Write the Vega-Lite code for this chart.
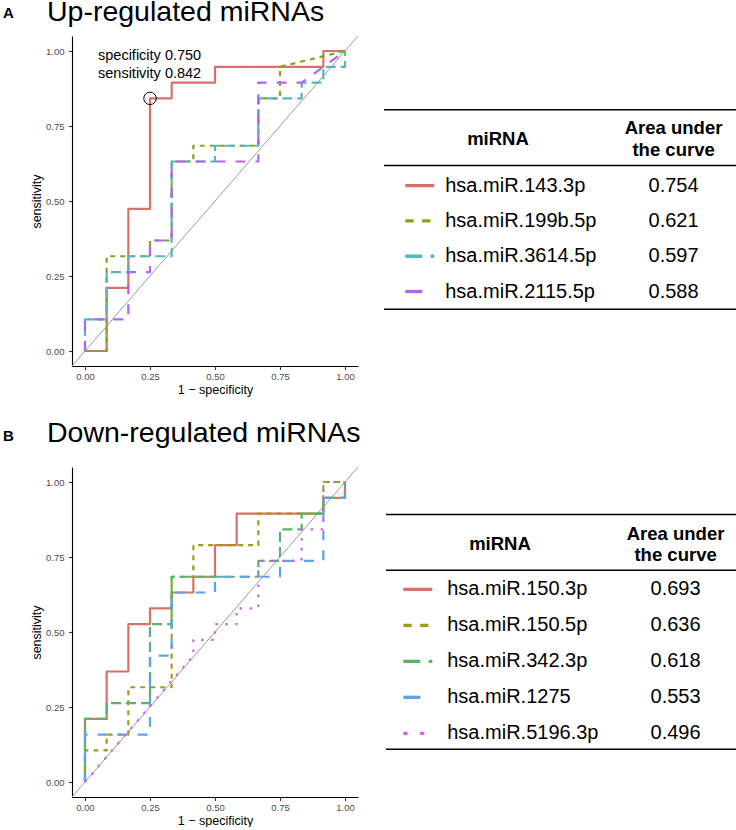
{
  "$schema": "https://vega.github.io/schema/vega-lite/v6.json",
  "padding": {"left": 3, "top": -3, "right": 0, "bottom": 0},
  "config": {
    "font": "Liberation Sans",
    "view": {"stroke": null},
    "axis": {"grid": false, "domainColor": "#000000", "domainWidth": 1.1, "tickColor": "#333333", "tickWidth": 1.1, "tickSize": 3.5, "labelColor": "#4D4D4D", "labelFontSize": 9.5, "labelPadding": 2, "titleFontSize": 12.5, "titleFontWeight": "normal", "titleColor": "#000000", "titlePadding": 3}
  },
  "datasets": {
    "rocA": [
      {"miRNA": "hsa.miR.143.3p", "step": 0, "fpr": 0, "sens": 0},
      {"miRNA": "hsa.miR.143.3p", "step": 1, "fpr": 0.0833, "sens": 0},
      {"miRNA": "hsa.miR.143.3p", "step": 2, "fpr": 0.0833, "sens": 0.2105},
      {"miRNA": "hsa.miR.143.3p", "step": 3, "fpr": 0.1667, "sens": 0.2105},
      {"miRNA": "hsa.miR.143.3p", "step": 4, "fpr": 0.1667, "sens": 0.4737},
      {"miRNA": "hsa.miR.143.3p", "step": 5, "fpr": 0.25, "sens": 0.4737},
      {"miRNA": "hsa.miR.143.3p", "step": 6, "fpr": 0.25, "sens": 0.8421},
      {"miRNA": "hsa.miR.143.3p", "step": 7, "fpr": 0.3333, "sens": 0.8421},
      {"miRNA": "hsa.miR.143.3p", "step": 8, "fpr": 0.3333, "sens": 0.8947},
      {"miRNA": "hsa.miR.143.3p", "step": 9, "fpr": 0.5, "sens": 0.8947},
      {"miRNA": "hsa.miR.143.3p", "step": 10, "fpr": 0.5, "sens": 0.9474},
      {"miRNA": "hsa.miR.143.3p", "step": 11, "fpr": 0.9167, "sens": 0.9474},
      {"miRNA": "hsa.miR.143.3p", "step": 12, "fpr": 0.9167, "sens": 1},
      {"miRNA": "hsa.miR.143.3p", "step": 13, "fpr": 1, "sens": 1},
      {"miRNA": "hsa.miR.199b.5p", "step": 0, "fpr": 0, "sens": 0},
      {"miRNA": "hsa.miR.199b.5p", "step": 1, "fpr": 0.0833, "sens": 0},
      {"miRNA": "hsa.miR.199b.5p", "step": 2, "fpr": 0.0833, "sens": 0.3158},
      {"miRNA": "hsa.miR.199b.5p", "step": 3, "fpr": 0.25, "sens": 0.3158},
      {"miRNA": "hsa.miR.199b.5p", "step": 4, "fpr": 0.25, "sens": 0.3684},
      {"miRNA": "hsa.miR.199b.5p", "step": 5, "fpr": 0.3333, "sens": 0.3684},
      {"miRNA": "hsa.miR.199b.5p", "step": 6, "fpr": 0.3333, "sens": 0.6316},
      {"miRNA": "hsa.miR.199b.5p", "step": 7, "fpr": 0.4167, "sens": 0.6316},
      {"miRNA": "hsa.miR.199b.5p", "step": 8, "fpr": 0.4167, "sens": 0.6842},
      {"miRNA": "hsa.miR.199b.5p", "step": 9, "fpr": 0.6667, "sens": 0.6842},
      {"miRNA": "hsa.miR.199b.5p", "step": 10, "fpr": 0.6667, "sens": 0.8421},
      {"miRNA": "hsa.miR.199b.5p", "step": 11, "fpr": 0.75, "sens": 0.8421},
      {"miRNA": "hsa.miR.199b.5p", "step": 12, "fpr": 0.75, "sens": 0.9474},
      {"miRNA": "hsa.miR.199b.5p", "step": 13, "fpr": 1, "sens": 1},
      {"miRNA": "hsa.miR.3614.5p", "step": 0, "fpr": 0, "sens": 0},
      {"miRNA": "hsa.miR.3614.5p", "step": 1, "fpr": 0, "sens": 0.1053},
      {"miRNA": "hsa.miR.3614.5p", "step": 2, "fpr": 0.0833, "sens": 0.1053},
      {"miRNA": "hsa.miR.3614.5p", "step": 3, "fpr": 0.0833, "sens": 0.2632},
      {"miRNA": "hsa.miR.3614.5p", "step": 4, "fpr": 0.1667, "sens": 0.2632},
      {"miRNA": "hsa.miR.3614.5p", "step": 5, "fpr": 0.1667, "sens": 0.3158},
      {"miRNA": "hsa.miR.3614.5p", "step": 6, "fpr": 0.3333, "sens": 0.3158},
      {"miRNA": "hsa.miR.3614.5p", "step": 7, "fpr": 0.3333, "sens": 0.6316},
      {"miRNA": "hsa.miR.3614.5p", "step": 8, "fpr": 0.5, "sens": 0.6316},
      {"miRNA": "hsa.miR.3614.5p", "step": 9, "fpr": 0.5, "sens": 0.6842},
      {"miRNA": "hsa.miR.3614.5p", "step": 10, "fpr": 0.6667, "sens": 0.6842},
      {"miRNA": "hsa.miR.3614.5p", "step": 11, "fpr": 0.6667, "sens": 0.8421},
      {"miRNA": "hsa.miR.3614.5p", "step": 12, "fpr": 0.8333, "sens": 0.8421},
      {"miRNA": "hsa.miR.3614.5p", "step": 13, "fpr": 0.8333, "sens": 0.8947},
      {"miRNA": "hsa.miR.3614.5p", "step": 14, "fpr": 0.9167, "sens": 0.8947},
      {"miRNA": "hsa.miR.3614.5p", "step": 15, "fpr": 0.9167, "sens": 0.9474},
      {"miRNA": "hsa.miR.3614.5p", "step": 16, "fpr": 1, "sens": 0.9474},
      {"miRNA": "hsa.miR.3614.5p", "step": 17, "fpr": 1, "sens": 1},
      {"miRNA": "hsa.miR.2115.5p", "step": 0, "fpr": 0, "sens": 0},
      {"miRNA": "hsa.miR.2115.5p", "step": 1, "fpr": 0, "sens": 0.1053},
      {"miRNA": "hsa.miR.2115.5p", "step": 2, "fpr": 0.1667, "sens": 0.1053},
      {"miRNA": "hsa.miR.2115.5p", "step": 3, "fpr": 0.1667, "sens": 0.2632},
      {"miRNA": "hsa.miR.2115.5p", "step": 4, "fpr": 0.25, "sens": 0.2632},
      {"miRNA": "hsa.miR.2115.5p", "step": 5, "fpr": 0.25, "sens": 0.3684},
      {"miRNA": "hsa.miR.2115.5p", "step": 6, "fpr": 0.3333, "sens": 0.3684},
      {"miRNA": "hsa.miR.2115.5p", "step": 7, "fpr": 0.3333, "sens": 0.6316},
      {"miRNA": "hsa.miR.2115.5p", "step": 8, "fpr": 0.6667, "sens": 0.6316},
      {"miRNA": "hsa.miR.2115.5p", "step": 9, "fpr": 0.6667, "sens": 0.8947},
      {"miRNA": "hsa.miR.2115.5p", "step": 10, "fpr": 0.8333, "sens": 0.8947},
      {"miRNA": "hsa.miR.2115.5p", "step": 11, "fpr": 1, "sens": 1}
    ],
    "rocB": [
      {"miRNA": "hsa.miR.150.3p", "step": 0, "fpr": 0, "sens": 0},
      {"miRNA": "hsa.miR.150.3p", "step": 1, "fpr": 0, "sens": 0.2105},
      {"miRNA": "hsa.miR.150.3p", "step": 2, "fpr": 0.0833, "sens": 0.2105},
      {"miRNA": "hsa.miR.150.3p", "step": 3, "fpr": 0.0833, "sens": 0.3684},
      {"miRNA": "hsa.miR.150.3p", "step": 4, "fpr": 0.1667, "sens": 0.3684},
      {"miRNA": "hsa.miR.150.3p", "step": 5, "fpr": 0.1667, "sens": 0.5263},
      {"miRNA": "hsa.miR.150.3p", "step": 6, "fpr": 0.25, "sens": 0.5263},
      {"miRNA": "hsa.miR.150.3p", "step": 7, "fpr": 0.25, "sens": 0.5789},
      {"miRNA": "hsa.miR.150.3p", "step": 8, "fpr": 0.3333, "sens": 0.5789},
      {"miRNA": "hsa.miR.150.3p", "step": 9, "fpr": 0.3333, "sens": 0.6316},
      {"miRNA": "hsa.miR.150.3p", "step": 10, "fpr": 0.4167, "sens": 0.6316},
      {"miRNA": "hsa.miR.150.3p", "step": 11, "fpr": 0.4167, "sens": 0.6842},
      {"miRNA": "hsa.miR.150.3p", "step": 12, "fpr": 0.5, "sens": 0.6842},
      {"miRNA": "hsa.miR.150.3p", "step": 13, "fpr": 0.5, "sens": 0.7895},
      {"miRNA": "hsa.miR.150.3p", "step": 14, "fpr": 0.5833, "sens": 0.7895},
      {"miRNA": "hsa.miR.150.3p", "step": 15, "fpr": 0.5833, "sens": 0.8947},
      {"miRNA": "hsa.miR.150.3p", "step": 16, "fpr": 0.9167, "sens": 0.8947},
      {"miRNA": "hsa.miR.150.3p", "step": 17, "fpr": 0.9167, "sens": 0.9474},
      {"miRNA": "hsa.miR.150.3p", "step": 18, "fpr": 1, "sens": 0.9474},
      {"miRNA": "hsa.miR.150.3p", "step": 19, "fpr": 1, "sens": 1},
      {"miRNA": "hsa.miR.150.5p", "step": 0, "fpr": 0, "sens": 0},
      {"miRNA": "hsa.miR.150.5p", "step": 1, "fpr": 0, "sens": 0.1053},
      {"miRNA": "hsa.miR.150.5p", "step": 2, "fpr": 0.0833, "sens": 0.1053},
      {"miRNA": "hsa.miR.150.5p", "step": 3, "fpr": 0.0833, "sens": 0.1579},
      {"miRNA": "hsa.miR.150.5p", "step": 4, "fpr": 0.1667, "sens": 0.1579},
      {"miRNA": "hsa.miR.150.5p", "step": 5, "fpr": 0.1667, "sens": 0.3158},
      {"miRNA": "hsa.miR.150.5p", "step": 6, "fpr": 0.3333, "sens": 0.3158},
      {"miRNA": "hsa.miR.150.5p", "step": 7, "fpr": 0.3333, "sens": 0.6842},
      {"miRNA": "hsa.miR.150.5p", "step": 8, "fpr": 0.4167, "sens": 0.6842},
      {"miRNA": "hsa.miR.150.5p", "step": 9, "fpr": 0.4167, "sens": 0.7895},
      {"miRNA": "hsa.miR.150.5p", "step": 10, "fpr": 0.6667, "sens": 0.7895},
      {"miRNA": "hsa.miR.150.5p", "step": 11, "fpr": 0.6667, "sens": 0.8947},
      {"miRNA": "hsa.miR.150.5p", "step": 12, "fpr": 0.9167, "sens": 0.8947},
      {"miRNA": "hsa.miR.150.5p", "step": 13, "fpr": 0.9167, "sens": 1},
      {"miRNA": "hsa.miR.150.5p", "step": 14, "fpr": 1, "sens": 1},
      {"miRNA": "hsa.miR.342.3p", "step": 0, "fpr": 0, "sens": 0},
      {"miRNA": "hsa.miR.342.3p", "step": 1, "fpr": 0, "sens": 0.2105},
      {"miRNA": "hsa.miR.342.3p", "step": 2, "fpr": 0.0833, "sens": 0.2105},
      {"miRNA": "hsa.miR.342.3p", "step": 3, "fpr": 0.0833, "sens": 0.2632},
      {"miRNA": "hsa.miR.342.3p", "step": 4, "fpr": 0.25, "sens": 0.2632},
      {"miRNA": "hsa.miR.342.3p", "step": 5, "fpr": 0.25, "sens": 0.5263},
      {"miRNA": "hsa.miR.342.3p", "step": 6, "fpr": 0.3333, "sens": 0.5263},
      {"miRNA": "hsa.miR.342.3p", "step": 7, "fpr": 0.3333, "sens": 0.6842},
      {"miRNA": "hsa.miR.342.3p", "step": 8, "fpr": 0.6667, "sens": 0.6842},
      {"miRNA": "hsa.miR.342.3p", "step": 9, "fpr": 0.6667, "sens": 0.7368},
      {"miRNA": "hsa.miR.342.3p", "step": 10, "fpr": 0.75, "sens": 0.7368},
      {"miRNA": "hsa.miR.342.3p", "step": 11, "fpr": 0.75, "sens": 0.8421},
      {"miRNA": "hsa.miR.342.3p", "step": 12, "fpr": 0.8333, "sens": 0.8421},
      {"miRNA": "hsa.miR.342.3p", "step": 13, "fpr": 0.8333, "sens": 0.8947},
      {"miRNA": "hsa.miR.342.3p", "step": 14, "fpr": 0.9167, "sens": 0.8947},
      {"miRNA": "hsa.miR.342.3p", "step": 15, "fpr": 0.9167, "sens": 0.9474},
      {"miRNA": "hsa.miR.342.3p", "step": 16, "fpr": 1, "sens": 0.9474},
      {"miRNA": "hsa.miR.342.3p", "step": 17, "fpr": 1, "sens": 1},
      {"miRNA": "hsa.miR.1275", "step": 0, "fpr": 0, "sens": 0},
      {"miRNA": "hsa.miR.1275", "step": 1, "fpr": 0, "sens": 0.1579},
      {"miRNA": "hsa.miR.1275", "step": 2, "fpr": 0.25, "sens": 0.1579},
      {"miRNA": "hsa.miR.1275", "step": 3, "fpr": 0.25, "sens": 0.4211},
      {"miRNA": "hsa.miR.1275", "step": 4, "fpr": 0.3333, "sens": 0.4211},
      {"miRNA": "hsa.miR.1275", "step": 5, "fpr": 0.3333, "sens": 0.6316},
      {"miRNA": "hsa.miR.1275", "step": 6, "fpr": 0.5, "sens": 0.6316},
      {"miRNA": "hsa.miR.1275", "step": 7, "fpr": 0.5, "sens": 0.6842},
      {"miRNA": "hsa.miR.1275", "step": 8, "fpr": 0.75, "sens": 0.6842},
      {"miRNA": "hsa.miR.1275", "step": 9, "fpr": 0.75, "sens": 0.7368},
      {"miRNA": "hsa.miR.1275", "step": 10, "fpr": 0.9167, "sens": 0.7368},
      {"miRNA": "hsa.miR.1275", "step": 11, "fpr": 0.9167, "sens": 0.9474},
      {"miRNA": "hsa.miR.1275", "step": 12, "fpr": 1, "sens": 0.9474},
      {"miRNA": "hsa.miR.1275", "step": 13, "fpr": 1, "sens": 1},
      {"miRNA": "hsa.miR.5196.3p", "step": 0, "fpr": 0, "sens": 0},
      {"miRNA": "hsa.miR.5196.3p", "step": 1, "fpr": 0.4167, "sens": 0.4211},
      {"miRNA": "hsa.miR.5196.3p", "step": 2, "fpr": 0.4167, "sens": 0.4737},
      {"miRNA": "hsa.miR.5196.3p", "step": 3, "fpr": 0.5, "sens": 0.4737},
      {"miRNA": "hsa.miR.5196.3p", "step": 4, "fpr": 0.5, "sens": 0.5263},
      {"miRNA": "hsa.miR.5196.3p", "step": 5, "fpr": 0.5833, "sens": 0.5263},
      {"miRNA": "hsa.miR.5196.3p", "step": 6, "fpr": 0.5833, "sens": 0.5789},
      {"miRNA": "hsa.miR.5196.3p", "step": 7, "fpr": 0.6667, "sens": 0.5789},
      {"miRNA": "hsa.miR.5196.3p", "step": 8, "fpr": 0.6667, "sens": 0.7368},
      {"miRNA": "hsa.miR.5196.3p", "step": 9, "fpr": 0.8333, "sens": 0.7368},
      {"miRNA": "hsa.miR.5196.3p", "step": 10, "fpr": 0.8333, "sens": 0.8421},
      {"miRNA": "hsa.miR.5196.3p", "step": 11, "fpr": 0.9167, "sens": 0.8421},
      {"miRNA": "hsa.miR.5196.3p", "step": 12, "fpr": 0.9167, "sens": 1},
      {"miRNA": "hsa.miR.5196.3p", "step": 13, "fpr": 1, "sens": 1}
    ],
    "thrA": [{"fpr": 0.25, "sens": 0.8421, "label": "specificity 0.750\nsensitivity 0.842"}],
    "tabA": [
      {"miRNA": "hsa.miR.143.3p", "auc": 0.754, "rank": 1},
      {"miRNA": "hsa.miR.199b.5p", "auc": 0.621, "rank": 2},
      {"miRNA": "hsa.miR.3614.5p", "auc": 0.597, "rank": 3},
      {"miRNA": "hsa.miR.2115.5p", "auc": 0.588, "rank": 4}
    ],
    "tabB": [
      {"miRNA": "hsa.miR.150.3p", "auc": 0.693, "rank": 1},
      {"miRNA": "hsa.miR.150.5p", "auc": 0.636, "rank": 2},
      {"miRNA": "hsa.miR.342.3p", "auc": 0.618, "rank": 3},
      {"miRNA": "hsa.miR.1275", "auc": 0.553, "rank": 4},
      {"miRNA": "hsa.miR.5196.3p", "auc": 0.496, "rank": 5}
    ]
  },
  "resolve": {"scale": {"color": "independent", "strokeDash": "independent", "x": "independent", "y": "independent"}},
  "spacing": 22,
  "vconcat": [
    {
      "title": {"text": "A", "anchor": "start", "fontSize": 15, "fontWeight": "bold", "baseline": "alphabetic", "offset": 0, "dx": -27.5, "dy": 35.4, "color": "#000000"},
      "resolve": {"scale": {"color": "independent", "strokeDash": "independent", "x": "independent", "y": "independent"}},
      "spacing": 24,
      "hconcat": [
        {
          "width": 286, "height": 330,
          "title": {"text": "Up-regulated miRNAs", "anchor": "start", "frame": "group", "dx": -25, "dy": 30.4, "fontSize": 28.5, "fontWeight": "normal", "baseline": "alphabetic", "offset": 16.6, "color": "#000000"},
          "layer": [
            {
              "data": {"values": [{}]},
              "mark": {"type": "rule", "color": "#9A9A9A", "strokeWidth": 1},
              "encoding": {
                "x": {"datum": -0.05, "type": "quantitative", "title": "1 − specificity", "scale": {"domain": [-0.05, 1.05], "nice": false, "zero": false}, "axis": {"values": [0, 0.25, 0.5, 0.75, 1], "format": ".2f", "labelPadding": 1.5}},
                "x2": {"datum": 1.05},
                "y": {"datum": -0.05, "type": "quantitative", "title": "sensitivity", "scale": {"domain": [-0.05, 1.05], "nice": false, "zero": false}, "axis": {"values": [0, 0.25, 0.5, 0.75, 1], "format": ".2f", "labelPadding": 4.5, "titlePadding": 2}},
                "y2": {"datum": 1.05}
              }
            },
            {
              "data": {"name": "rocA"},
              "mark": {"type": "line", "strokeWidth": 2.2, "strokeCap": "butt", "strokeJoin": "round"},
              "encoding": {
                "x": {"field": "fpr", "type": "quantitative", "title": "1 − specificity"},
                "y": {"field": "sens", "type": "quantitative", "title": "sensitivity"},
                "color": {"field": "miRNA", "type": "nominal", "legend": null, "scale": {"domain": ["hsa.miR.143.3p", "hsa.miR.199b.5p", "hsa.miR.3614.5p", "hsa.miR.2115.5p"], "range": ["#D9716A", "#7EA71A", "#55B6BB", "#AE66F2"]}},
                "strokeDash": {"field": "miRNA", "type": "nominal", "legend": null, "scale": {"domain": ["hsa.miR.143.3p", "hsa.miR.199b.5p", "hsa.miR.3614.5p", "hsa.miR.2115.5p"], "range": [[1, 0], [5, 5], [10, 5], [10, 10]]}},
                "order": {"field": "step", "type": "quantitative"}
              }
            },
            {
              "data": {"name": "thrA"},
              "mark": {"type": "point", "shape": "circle", "filled": false, "size": 155, "color": "#000000", "strokeWidth": 1, "opacity": 1},
              "encoding": {
                "x": {"field": "fpr", "type": "quantitative", "title": "1 − specificity"},
                "y": {"field": "sens", "type": "quantitative", "title": "sensitivity"}
              }
            },
            {
              "data": {"name": "thrA"},
              "mark": {"type": "text", "align": "left", "baseline": "middle", "fontSize": 14.5, "lineHeight": 18, "lineBreak": "\n", "color": "#000000"},
              "encoding": {
                "x": {"datum": 0.05, "type": "quantitative", "title": "1 − specificity"},
                "y": {"datum": 0.984, "type": "quantitative", "title": "sensitivity"},
                "text": {"field": "label"}
              }
            }
          ]
        },
        {
          "width": 354, "height": 330,
          "layer": [
            {
              "data": {"values": [{}]},
              "mark": {"type": "rule", "color": "#000000", "strokeWidth": 1.5},
              "encoding": {
                "x": {"datum": 0, "type": "quantitative", "scale": {"domain": [0, 1], "nice": false, "zero": false}, "axis": null},
                "x2": {"datum": 1},
                "y": {"datum": -1.15, "type": "quantitative", "scale": {"domain": [-3.24, 6.11], "nice": false, "zero": false, "reverse": true}, "axis": null}
              }
            },
            {
              "data": {"values": [{}]},
              "mark": {"type": "rule", "color": "#000000", "strokeWidth": 1.5},
              "encoding": {"x": {"datum": 0, "type": "quantitative", "axis": null}, "x2": {"datum": 1}, "y": {"datum": 0.43, "type": "quantitative", "axis": null}}
            },
            {
              "data": {"values": [{}]},
              "mark": {"type": "rule", "color": "#000000", "strokeWidth": 1.5},
              "encoding": {"x": {"datum": 0, "type": "quantitative", "axis": null}, "x2": {"datum": 1}, "y": {"datum": 4.5, "type": "quantitative", "axis": null}}
            },
            {
              "data": {"values": [{}]},
              "mark": {"type": "text", "align": "center", "baseline": "middle", "fontSize": 18.5, "fontWeight": "bold", "color": "#000000"},
              "encoding": {"x": {"datum": 0.322, "type": "quantitative", "axis": null}, "y": {"datum": -0.323, "type": "quantitative", "axis": null}, "text": {"value": "miRNA"}}
            },
            {
              "data": {"values": [{}]},
              "mark": {"type": "text", "align": "center", "baseline": "middle", "fontSize": 18.5, "fontWeight": "bold", "lineHeight": 21.7, "lineBreak": "\n", "color": "#000000"},
              "encoding": {"x": {"datum": 0.818, "type": "quantitative", "axis": null}, "y": {"datum": -0.635, "type": "quantitative", "axis": null}, "text": {"value": "Area under\nthe curve"}}
            },
            {
              "data": {"name": "tabA"},
              "mark": {"type": "rule", "strokeWidth": 3.3, "strokeCap": "butt"},
              "encoding": {
                "x": {"datum": 0.06, "type": "quantitative", "axis": null},
                "x2": {"datum": 0.142},
                "y": {"field": "rank", "type": "quantitative", "axis": null},
                "color": {"field": "miRNA", "type": "nominal", "legend": null, "scale": {"domain": ["hsa.miR.143.3p", "hsa.miR.199b.5p", "hsa.miR.3614.5p", "hsa.miR.2115.5p"], "range": ["#D9716A", "#7EA71A", "#55B6BB", "#AE66F2"]}},
                "strokeDash": {"field": "miRNA", "type": "nominal", "legend": null, "scale": {"domain": ["hsa.miR.143.3p", "hsa.miR.199b.5p", "hsa.miR.3614.5p", "hsa.miR.2115.5p"], "range": [[1, 0], [8.4, 8.4], [17, 8.4], [17, 17]]}}
              }
            },
            {
              "data": {"name": "tabA"},
              "mark": {"type": "text", "align": "left", "baseline": "middle", "fontSize": 20, "color": "#000000"},
              "encoding": {"x": {"datum": 0.173, "type": "quantitative", "axis": null}, "y": {"field": "rank", "type": "quantitative", "axis": null}, "text": {"field": "miRNA"}}
            },
            {
              "data": {"name": "tabA"},
              "mark": {"type": "text", "align": "center", "baseline": "middle", "fontSize": 20, "color": "#000000"},
              "encoding": {"x": {"datum": 0.818, "type": "quantitative", "axis": null}, "y": {"field": "rank", "type": "quantitative", "axis": null}, "text": {"field": "auc", "format": ".3f"}}
            }
          ]
        }
      ]
    },
    {
      "title": {"text": "B", "anchor": "start", "fontSize": 15, "fontWeight": "bold", "baseline": "alphabetic", "offset": 0, "dx": -27.5, "dy": 37.2, "color": "#000000"},
      "resolve": {"scale": {"color": "independent", "strokeDash": "independent", "x": "independent", "y": "independent"}},
      "spacing": 24,
      "hconcat": [
        {
          "width": 286, "height": 330,
          "title": {"text": "Down-regulated miRNAs", "anchor": "start", "frame": "group", "dx": -25, "dy": 29.4, "fontSize": 28.5, "fontWeight": "normal", "baseline": "alphabetic", "offset": 25.6, "color": "#000000"},
          "layer": [
            {
              "data": {"values": [{}]},
              "mark": {"type": "rule", "color": "#9A9A9A", "strokeWidth": 1},
              "encoding": {
                "x": {"datum": -0.05, "type": "quantitative", "title": "1 − specificity", "scale": {"domain": [-0.05, 1.05], "nice": false, "zero": false}, "axis": {"values": [0, 0.25, 0.5, 0.75, 1], "format": ".2f", "labelPadding": 1.5}},
                "x2": {"datum": 1.05},
                "y": {"datum": -0.05, "type": "quantitative", "title": "sensitivity", "scale": {"domain": [-0.05, 1.05], "nice": false, "zero": false}, "axis": {"values": [0, 0.25, 0.5, 0.75, 1], "format": ".2f", "labelPadding": 4.5, "titlePadding": 2}},
                "y2": {"datum": 1.05}
              }
            },
            {
              "data": {"name": "rocB"},
              "mark": {"type": "line", "strokeWidth": 2.2, "strokeCap": "butt", "strokeJoin": "round"},
              "encoding": {
                "x": {"field": "fpr", "type": "quantitative", "title": "1 − specificity"},
                "y": {"field": "sens", "type": "quantitative", "title": "sensitivity"},
                "color": {"field": "miRNA", "type": "nominal", "legend": null, "scale": {"domain": ["hsa.miR.150.3p", "hsa.miR.150.5p", "hsa.miR.342.3p", "hsa.miR.1275", "hsa.miR.5196.3p"], "range": ["#D9716A", "#9E9B1F", "#59B36A", "#5EA2EE", "#D162E8"]}},
                "strokeDash": {"field": "miRNA", "type": "nominal", "legend": null, "scale": {"domain": ["hsa.miR.150.3p", "hsa.miR.150.5p", "hsa.miR.342.3p", "hsa.miR.1275", "hsa.miR.5196.3p"], "range": [[1, 0], [5, 5], [10, 5], [10, 10], [2.5, 7.5]]}},
                "order": {"field": "step", "type": "quantitative"}
              }
            }
          ]
        },
        {
          "width": 354, "height": 330,
          "layer": [
            {
              "data": {"values": [{}]},
              "mark": {"type": "rule", "color": "#000000", "strokeWidth": 1.5},
              "encoding": {
                "x": {"datum": 0, "type": "quantitative", "scale": {"domain": [0, 1], "nice": false, "zero": false}, "axis": null},
                "x2": {"datum": 1},
                "y": {"datum": -1.083, "type": "quantitative", "scale": {"domain": [-2.4, 6.77], "nice": false, "zero": false, "reverse": true}, "axis": null}
              }
            },
            {
              "data": {"values": [{}]},
              "mark": {"type": "rule", "color": "#000000", "strokeWidth": 1.5},
              "encoding": {"x": {"datum": 0, "type": "quantitative", "axis": null}, "x2": {"datum": 1}, "y": {"datum": 0.472, "type": "quantitative", "axis": null}}
            },
            {
              "data": {"values": [{}]},
              "mark": {"type": "rule", "color": "#000000", "strokeWidth": 1.5},
              "encoding": {"x": {"datum": 0, "type": "quantitative", "axis": null}, "x2": {"datum": 1}, "y": {"datum": 5.444, "type": "quantitative", "axis": null}}
            },
            {
              "data": {"values": [{}]},
              "mark": {"type": "text", "align": "center", "baseline": "middle", "fontSize": 18.5, "fontWeight": "bold", "color": "#000000"},
              "encoding": {"x": {"datum": 0.322, "type": "quantitative", "axis": null}, "y": {"datum": -0.27, "type": "quantitative", "axis": null}, "text": {"value": "miRNA"}}
            },
            {
              "data": {"values": [{}]},
              "mark": {"type": "text", "align": "center", "baseline": "middle", "fontSize": 18.5, "fontWeight": "bold", "lineHeight": 21.7, "lineBreak": "\n", "color": "#000000"},
              "encoding": {"x": {"datum": 0.818, "type": "quantitative", "axis": null}, "y": {"datum": -0.547, "type": "quantitative", "axis": null}, "text": {"value": "Area under\nthe curve"}}
            },
            {
              "data": {"name": "tabB"},
              "mark": {"type": "rule", "strokeWidth": 3.3, "strokeCap": "butt"},
              "encoding": {
                "x": {"datum": 0.049, "type": "quantitative", "axis": null},
                "x2": {"datum": 0.131},
                "y": {"field": "rank", "type": "quantitative", "axis": null},
                "color": {"field": "miRNA", "type": "nominal", "legend": null, "scale": {"domain": ["hsa.miR.150.3p", "hsa.miR.150.5p", "hsa.miR.342.3p", "hsa.miR.1275", "hsa.miR.5196.3p"], "range": ["#D9716A", "#9E9B1F", "#59B36A", "#5EA2EE", "#D162E8"]}},
                "strokeDash": {"field": "miRNA", "type": "nominal", "legend": null, "scale": {"domain": ["hsa.miR.150.3p", "hsa.miR.150.5p", "hsa.miR.342.3p", "hsa.miR.1275", "hsa.miR.5196.3p"], "range": [[1, 0], [8.4, 8.4], [17, 8.4], [17, 17], [4.2, 12.6]]}}
              }
            },
            {
              "data": {"name": "tabB"},
              "mark": {"type": "text", "align": "left", "baseline": "middle", "fontSize": 20, "color": "#000000"},
              "encoding": {"x": {"datum": 0.173, "type": "quantitative", "axis": null}, "y": {"field": "rank", "type": "quantitative", "axis": null}, "text": {"field": "miRNA"}}
            },
            {
              "data": {"name": "tabB"},
              "mark": {"type": "text", "align": "center", "baseline": "middle", "fontSize": 20, "color": "#000000"},
              "encoding": {"x": {"datum": 0.818, "type": "quantitative", "axis": null}, "y": {"field": "rank", "type": "quantitative", "axis": null}, "text": {"field": "auc", "format": ".3f"}}
            }
          ]
        }
      ]
    }
  ]
}
